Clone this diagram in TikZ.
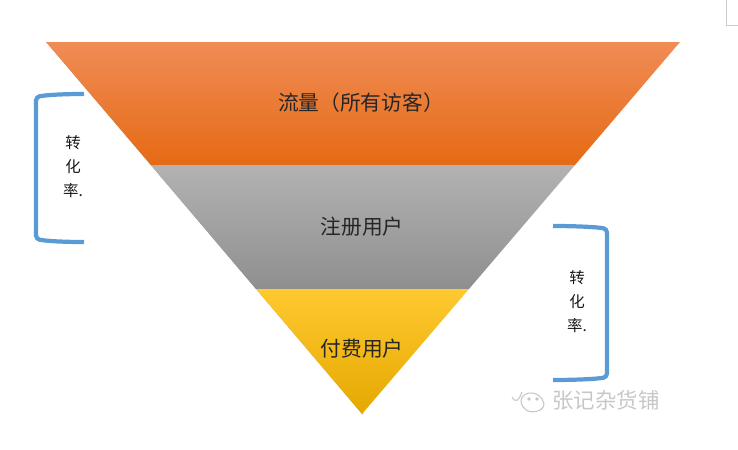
\documentclass[tikz,border=0pt]{standalone}
\usepackage{fontspec}
\setmainfont{Noto Sans CJK SC}
\usepackage{tikz}
\usetikzlibrary{calc}
\definecolor{bracketblue}{HTML}{5B9BD5}
\definecolor{orangetop}{HTML}{F08C56}
\definecolor{orangemid}{HTML}{F37C26}
\definecolor{orangelow}{HTML}{E56A14}
\definecolor{yellowtop}{HTML}{FFC930}
\definecolor{yellowmid}{HTML}{FDC01E}
\definecolor{yellowlow}{HTML}{E5A800}

\begin{document}
\begin{tikzpicture}[
        x=0.02cm, y=-0.02cm,
        % Text styles
        label/.style={font=\fontsize{11.8}{14}\selectfont, text=black!85, inner sep=0pt},
        rate/.style={font=\fontsize{8.8}{13.6}\selectfont, text=black!90, align=center, inner sep=0pt},
        mark text/.style={font=\fontsize{12.2}{14}\selectfont, text=black!22, inner sep=0pt},
        % Shape styles
        bracket/.style={draw=bracketblue, line width=2.4pt, rounded corners=2pt},
        edge shadow/.style={draw=black!35, line width=0.6pt},
        mark line/.style={draw=black!22, line width=0.6pt}
    ]
    \useasboundingbox (0,0) rectangle (738,450);

    % Funnel corners
    \coordinate (topl) at (46,42);
    \coordinate (topr) at (680,42);
    \coordinate (tip) at (362,414);
    \coordinate (midl) at (151,165);
    \coordinate (midr) at (575,165);
    \coordinate (lowl) at (256,289);
    \coordinate (lowr) at (469,289);

    % Soft edge along the left side
    \draw[edge shadow] ([xshift=0.5pt]topl) -- ([xshift=0.5pt]tip);

    % Bands
    \shade[top color=orangetop, middle color=orangemid, bottom color=orangelow]
        (topl) -- (topr) -- (midr) -- (midl) -- cycle;
    \shade[top color=black!30, bottom color=black!44]
        (midl) -- (midr) -- (lowr) -- (lowl) -- cycle;
    \shade[top color=yellowtop, middle color=yellowmid, bottom color=yellowlow]
        (lowl) -- (lowr) -- (tip) -- cycle;

    % Band labels
    \node[label] (traffic) at (361,103) {流量（所有访客）};
    \node[label] (signup) at (362,227) {注册用户};
    \node[label] (paying) at (362,349) {付费用户};

    % Left bracket
    \coordinate (lefta) at (84,94);
    \coordinate (leftb) at (84,242);
    \draw[bracket] (lefta) .. controls (62,94) and (46,95) .. (36,97) -- (36,239) .. controls (46,241) and (62,242) .. (leftb);
    \node[rate] (rateleft) at (73,167) {转\\化\\率.};

    % Right bracket
    \coordinate (righta) at (553,226);
    \coordinate (rightb) at (553,380);
    \draw[bracket] (righta) .. controls (575,226) and (597,227) .. (607,229) -- (607,377) .. controls (597,379) and (575,380) .. (rightb);
    \node[rate] (rateright) at (577,302) {转\\化\\率.};

    % Watermark
    \node[mark text] (shop) at (606,400) {张记杂货铺};
    \draw[mark line] (512,397) .. controls (516,404) and (519,400) .. (522,392);
    \draw[mark line] (521,400) .. controls (523,390) and (541,390) .. (544,404) .. controls (544,411) and (532,414) .. (526,410) .. controls (523,408) and (521,405) .. (521,400);
    \fill[black!22] (529,399) circle (1pt) (537,399) circle (1pt);

    % Page corner
    \draw[black!20, line width=0.5pt] (726,0) -- (726,25) -- (738,25);
\end{tikzpicture}
\end{document}
